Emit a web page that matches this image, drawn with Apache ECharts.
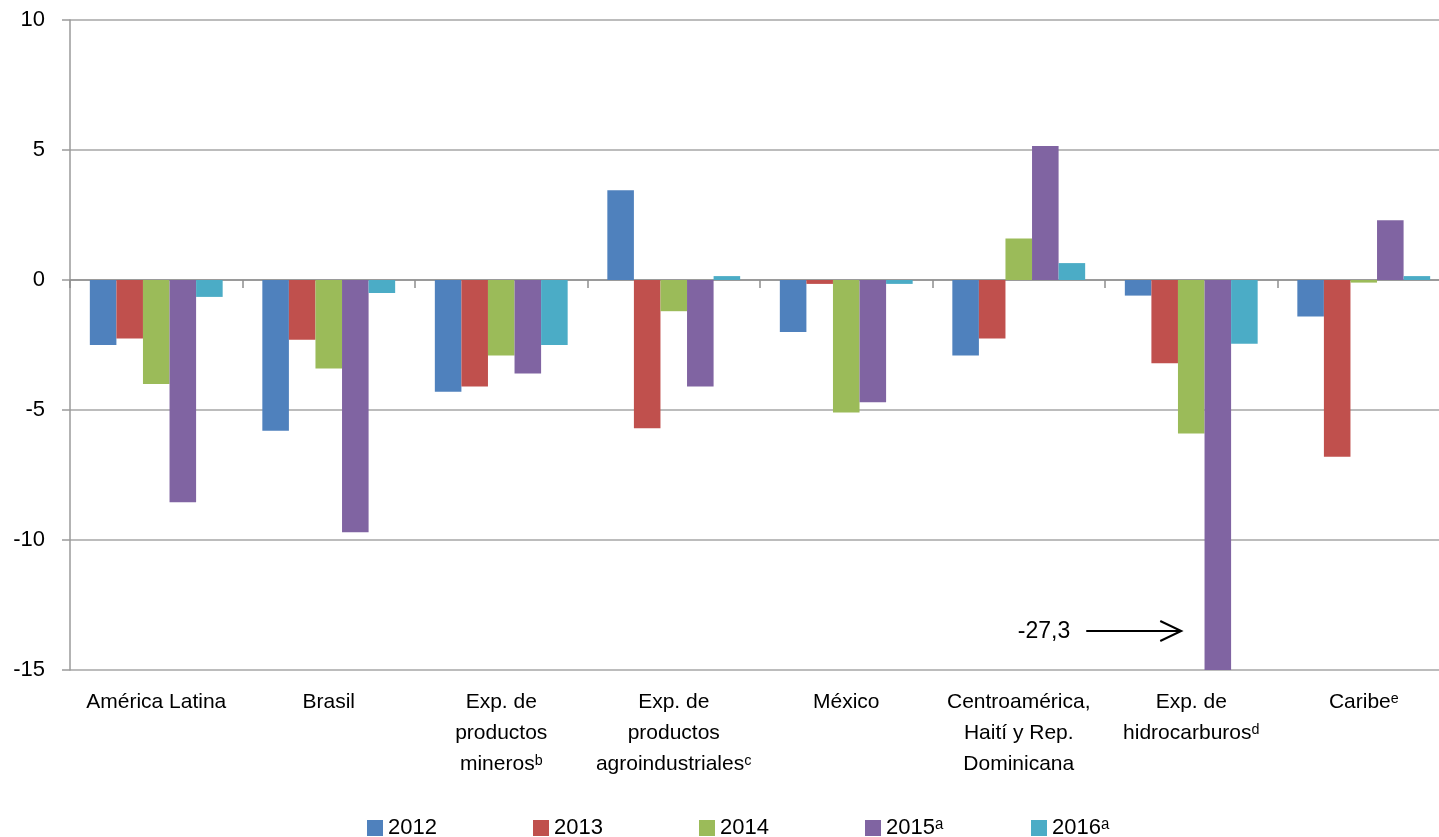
<!DOCTYPE html>
<html>
<head>
<meta charset="utf-8">
<script src="https://cdn.jsdelivr.net/npm/echarts@6/dist/echarts.min.js"></script>
<style>
  html, body { margin: 0; padding: 0; background: #fff; }
  #chart { width: 1439px; height: 837px; }
</style>
</head>
<body>
<div id="chart"></div>
<script>
var categories = [
  "América Latina",
  "Brasil",
  "Exp. de\nproductos\nminerosᵇ",
  "Exp. de\nproductos\nagroindustrialesᶜ",
  "México",
  "Centroamérica,\nHaití y Rep.\nDominicana",
  "Exp. de\nhidrocarburosᵈ",
  "Caribeᵉ"
];
var seriesNames = ["2012", "2013", "2014", "2015ᵃ", "2016ᵃ"];
var v2012 = [-2.5, -5.8, -4.3, 3.45, -2.0, -2.9, -0.6, -1.4];
var v2013 = [-2.25, -2.3, -4.1, -5.7, -0.15, -2.25, -3.2, -6.8];
var v2014 = [-4.0, -3.4, -2.9, -1.2, -5.1, 1.6, -5.9, -0.1];
var v2015 = [-8.55, -9.7, -3.6, -4.1, -4.7, 5.15, -27.3, 2.3];
var v2016 = [-0.65, -0.5, -2.5, 0.15, -0.15, 0.65, -2.45, 0.15];
var yTicks = { min: -15, max: 10, step: 5 };
var note = { category: 6, value: -27.3, text: "-27,3" };

var colors = ["#4F81BD", "#C0504D", "#9BBB59", "#8064A2", "#4BACC6"];
var font = "'Liberation Sans', Arial, 'DejaVu Sans', sans-serif";

var chart = echarts.init(document.getElementById("chart"));
var allValues = [v2012, v2013, v2014, v2015, v2016];

var series = seriesNames.map(function (name, i) {
  return {
    name: name,
    type: "bar",
    xAxisIndex: 0,
    barGap: 0,
    barCategoryGap: "23%",
    itemStyle: { color: colors[i] },
    emphasis: { disabled: true },
    data: allValues[i]
  };
});

// one legend per series so the items sit at Excel-like fixed spacing
var legends = seriesNames.map(function (name, i) {
  return {
    top: 812,
    left: 362 + i * 166,
    itemWidth: 16,
    itemHeight: 16,
    icon: "rect",
    selectedMode: false,
    textStyle: { fontFamily: font, fontSize: 22, color: "#000" },
    data: [name]
  };
});

var option = {
  animation: false,
  color: colors,
  // the plot runs a little past the right edge, as in the original export
  grid: { left: 70, top: 20, width: 1380, height: 650, outerBoundsMode: "none", containLabel: false },
  legend: legends,
  xAxis: [
    {
      type: "category",
      data: categories,
      position: "bottom",
      axisLine: { show: false, onZero: false },
      axisTick: { show: false },
      axisLabel: {
        interval: 0,
        margin: 17,
        fontFamily: font,
        fontSize: 21,
        lineHeight: 31,
        color: "#000",
        align: "center"
      },
      splitLine: { show: false }
    },
    {
      type: "category",
      data: categories,
      position: "bottom",
      axisLine: { show: true, onZero: true, lineStyle: { color: "#8E8E8E", width: 1.5 } },
      axisTick: { show: true, length: 8, lineStyle: { color: "#8E8E8E", width: 1.5 } },
      axisLabel: { show: false },
      splitLine: { show: false }
    }
  ],
  yAxis: {
    type: "value",
    min: yTicks.min,
    max: yTicks.max,
    interval: yTicks.step,
    axisLine: { show: true, lineStyle: { color: "#9A9A9A", width: 1.5 } },
    axisTick: { show: true, length: 8, lineStyle: { color: "#9A9A9A", width: 1.5 } },
    axisLabel: { margin: 25, fontFamily: font, fontSize: 22, color: "#000" },
    splitLine: { show: true, lineStyle: { color: "#A6A6A6", width: 1.5 } }
  },
  series: series
};

chart.setOption(option);

// annotation for the clipped hidrocarburos 2015 bar
var p = chart.convertToPixel({ gridIndex: 0 }, [note.category, -13.5]);
var x0 = p[0];
var y0 = p[1];
chart.setOption({
  graphic: [
    {
      type: "text",
      x: x0 - 121,
      y: y0 + 1,
      style: {
        text: note.text,
        fontFamily: font,
        fontSize: 23,
        fill: "#000",
        align: "right",
        verticalAlign: "middle"
      }
    },
    {
      type: "line",
      shape: { x1: x0 - 105, y1: y0, x2: x0 - 11, y2: y0 },
      style: { stroke: "#000", lineWidth: 2 }
    },
    {
      type: "polyline",
      shape: { points: [[x0 - 31, y0 - 10], [x0 - 10, y0], [x0 - 31, y0 + 10]] },
      style: { stroke: "#000", lineWidth: 2, fill: null }
    }
  ]
});

window.addEventListener("resize", function () {
  chart.resize();
});
</script>
</body>
</html>
